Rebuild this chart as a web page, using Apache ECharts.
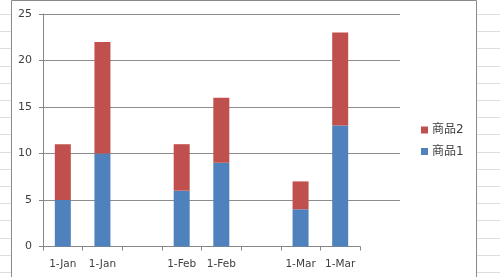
<!DOCTYPE html>
<html>
<head>
<meta charset="utf-8">
<script src="https://cdn.jsdelivr.net/npm/echarts@6/dist/echarts.min.js"></script>
<style>
html,body{margin:0;padding:0;background:#fff;}
#chart{width:500px;height:277px;}
</style>
</head>
<body>
<div id="chart"></div>
<script>
var categories = ['1-Jan','1-Jan','','1-Feb','1-Feb','','1-Mar','1-Mar'];
var product1 = [5, 10, null, 6, 9, null, 4, 13];
var product2 = [6, 12, null, 5, 7, null, 3, 10];
var seriesNames = ['商品1', '商品2'];
var yTicks = {min: 0, max: 25, interval: 5};

var chart = echarts.init(document.getElementById('chart'), null, {renderer: 'canvas'});
var font = 'DejaVu Sans, Noto Sans CJK SC, sans-serif';
var txt = '#404040';

// decorative spreadsheet background lines outside the chart area
var deco = [];
for (var i = 0; i < 16; i++) {
  var y = Math.round(14 + 17.2 * i) + 0.5;
  deco.push({type: 'line', silent: true, z: -10, shape: {x1: 0, y1: y, x2: 11, y2: y}, style: {stroke: '#dedede', lineWidth: 1}});
  deco.push({type: 'line', silent: true, z: -10, shape: {x1: 477, y1: y, x2: 500, y2: y}, style: {stroke: '#dedede', lineWidth: 1}});
}
deco.push({type: 'rect', silent: true, z: -5, shape: {x: 11.5, y: 0.5, width: 465, height: 300}, style: {fill: '#fff', stroke: '#8a8a8a', lineWidth: 1}});

var option = {
  animation: false,
  backgroundColor: '#fff',
  textStyle: {fontFamily: font},
  graphic: deco,
  grid: [
    {left: 43, top: 14, width: 357, height: 232.5, containLabel: false},
    {left: 43, top: 14, width: 317, height: 232.5, containLabel: false}
  ],
  legend: {
    orient: 'vertical',
    left: 421,
    top: 124,
    padding: 0,
    itemWidth: 7,
    itemHeight: 7,
    itemGap: 9.5,
    icon: 'rect',
    data: [seriesNames[1], seriesNames[0]],
    textStyle: {fontFamily: font, fontSize: 12, color: txt, padding: [0, 0, 0, -1]}
  },
  xAxis: [
    {gridIndex: 0, type: 'value', show: false, min: 0, max: 1},
    {
      gridIndex: 1, type: 'category', data: categories,
      axisLine: {show: true, lineStyle: {color: '#868686', width: 1}},
      axisTick: {show: true, length: 4, lineStyle: {color: '#868686'}},
      axisLabel: {interval: 0, color: txt, fontSize: 10.5, fontFamily: font, margin: 13},
      splitLine: {show: false}
    }
  ],
  yAxis: [
    {
      gridIndex: 0, type: 'value', min: yTicks.min, max: yTicks.max, interval: yTicks.interval,
      axisLine: {show: true, lineStyle: {color: '#868686', width: 1}},
      axisTick: {show: true, length: 4, lineStyle: {color: '#868686'}},
      axisLabel: {color: txt, fontSize: 11, fontFamily: font, margin: 11},
      splitLine: {show: true, showMinLine: false, lineStyle: {color: '#8c8c8c', width: 1}}
    },
    {gridIndex: 1, type: 'value', show: false, min: yTicks.min, max: yTicks.max, interval: yTicks.interval, splitLine: {show: false}}
  ],
  series: [
    {
      name: seriesNames[0], type: 'bar', stack: 'total', xAxisIndex: 1, yAxisIndex: 1,
      data: product1, barWidth: 16, itemStyle: {color: '#4F81BD'}
    },
    {
      name: seriesNames[1], type: 'bar', stack: 'total', xAxisIndex: 1, yAxisIndex: 1,
      data: product2, barWidth: 16, itemStyle: {color: '#C0504D'}
    }
  ]
};
chart.setOption(option);
</script>
</body>
</html>
